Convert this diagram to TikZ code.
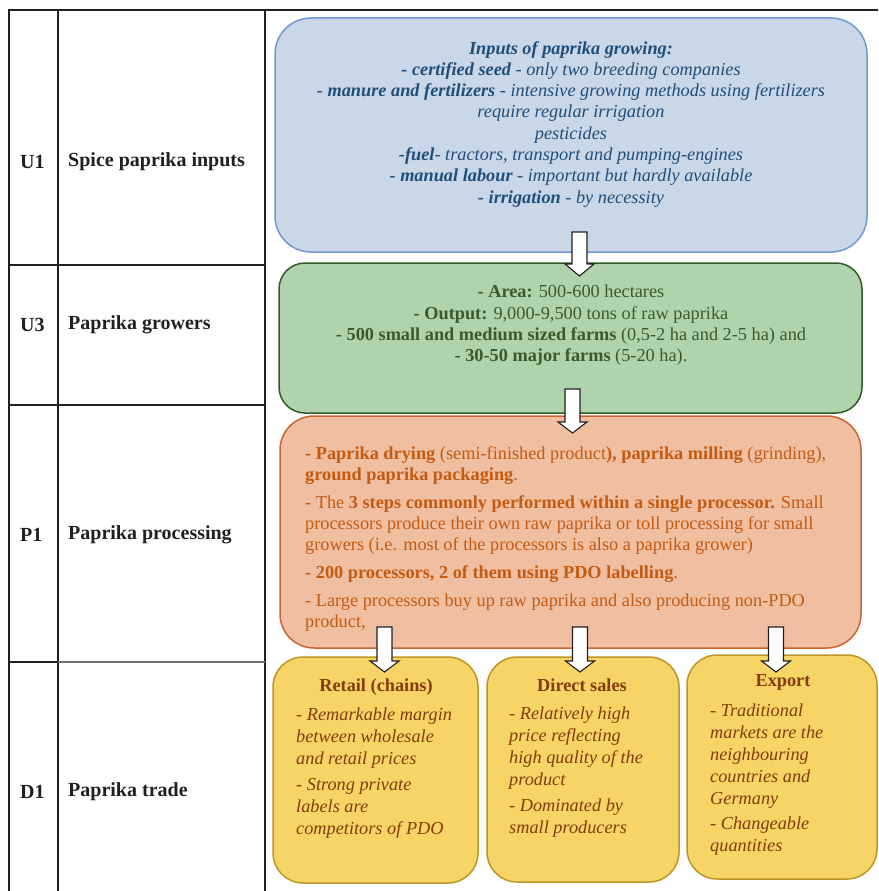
\documentclass[tikz,border=0pt]{standalone}
\usepackage{fontspec}
\setmainfont{Liberation Serif}
\usetikzlibrary{calc}

\definecolor{rulecol}{HTML}{231F20}
\definecolor{rulegrey}{HTML}{6E6E6E}
\definecolor{bluefill}{HTML}{CAD7E9}
\definecolor{blueline}{HTML}{7198D0}
\definecolor{bluetext}{HTML}{1F4E79}
\definecolor{greenfill}{HTML}{B0D3AD}
\definecolor{greenline}{HTML}{2F5B28}
\definecolor{greentext}{HTML}{3A5A2C}
\definecolor{orangefill}{HTML}{F0BFA2}
\definecolor{orangeline}{HTML}{C9642C}
\definecolor{orangetext}{HTML}{C55A11}
\definecolor{yellowfill}{HTML}{F6D466}
\definecolor{yellowline}{HTML}{BE9527}
\definecolor{browntext}{HTML}{843C0C}

% block arrow from #1 (shaft top) to #2 (tip), head length #3
\newcommand\blockarrow[3]{%
  \draw[flowarrow] let \p1=(#1), \p2=(#2) in
    (\x1-7.5pt,\y1) -- (\x1+7.5pt,\y1) -- (\x1+7.5pt,\y2+#3pt) -- (\x1+14.5pt,\y2+#3pt)
    -- (\x2,\y2) -- (\x1-14.5pt,\y2+#3pt) -- (\x1-7.5pt,\y2+#3pt) -- cycle;}

\tikzset{
  rule/.style={draw=rulecol, line width=1.6pt},
  thinrule/.style={draw=rulegrey, line width=1.1pt},
  panel/.style={rectangle, line width=1.5pt, inner sep=0pt},
  txt/.style={inner sep=0pt, font=\fontsize{18.3}{21.3}\selectfont},
  tradetxt/.style={inner sep=0pt, text=browntext, align=left, anchor=north west,
    font=\fontsize{18.3}{22}\selectfont\itshape},
  tradehead/.style={inner sep=0pt, text=browntext, font=\fontsize{18.3}{20}\selectfont\bfseries},
  label/.style={inner sep=0pt, anchor=west, text=rulecol, font=\fontsize{20}{22}\selectfont\bfseries},
  flowarrow/.style={draw=rulecol, fill=white, line width=1.1pt, line join=miter}
}

\begin{document}
\begin{tikzpicture}[x=1pt, y=-1pt]
\useasboundingbox (0,0) rectangle (878,891);

% table grid on the left
\draw[rule] (9,891) -- (9,10) -- (878,10);
\draw[rule] (58,10) -- (58,891);
\draw[rule] (265,10) -- (265,891);
\draw[rule] (9,265) -- (265,265);
\draw[rule] (9,405) -- (265,405);
\draw[rule] (9,662) -- (58,662);
\draw[thinrule] (58,662) -- (265,662);

% stage labels
\node[label] (u1) at (20,162) {U1};
\node[label] (u1n) at (68,162) {Spice paprika inputs};
\node[label] (u3) at (20,325) {U3};
\node[label] (u3n) at (68,325) {Paprika growers};
\node[label] (p1) at (20,535) {P1};
\node[label] (p1n) at (68,535) {Paprika processing};
\node[label] (d1) at (20,792) {D1};
\node[label] (d1n) at (68,792) {Paprika trade};

% panels
\node[panel, fill=bluefill, draw=blueline, rounded corners=36pt,
  minimum width=592pt, minimum height=234pt] (inputs) at (571,135) {};
\node[panel, fill=greenfill, draw=greenline, rounded corners=26pt,
  minimum width=583pt, minimum height=150pt] (growers) at (570.5,338) {};
\node[panel, fill=orangefill, draw=orangeline, rounded corners=34pt,
  minimum width=581pt, minimum height=232pt] (processing) at (570.5,532) {};
\node[panel, fill=yellowfill, draw=yellowline, rounded corners=30pt,
  minimum width=205pt, minimum height=226pt] (retail) at (375.5,770) {};
\node[panel, fill=yellowfill, draw=yellowline, rounded corners=30pt,
  minimum width=192pt, minimum height=225pt] (direct) at (583,769.5) {};
\node[panel, fill=yellowfill, draw=yellowline, rounded corners=30pt,
  minimum width=190pt, minimum height=224pt] (export) at (782,767) {};

% panel texts
\node[txt, text=bluetext, align=center, anchor=north, font=\fontsize{18.3}{21.3}\selectfont\itshape]
  (inputsText) at (571,41) {%
  \textbf{Inputs of paprika growing:}\\
  \textbf{- certified seed} - only two breeding companies\\
  \textbf{- manure and fertilizers} - intensive growing methods using fertilizers\\
  require regular irrigation\\
  pesticides\\
  \textbf{-fuel}- tractors, transport and pumping-engines\\
  \textbf{- manual labour} - important but hardly available\\
  \textbf{- irrigation} - by necessity};

\node[txt, text=greentext, align=center, anchor=north] (growersText) at (571,285) {%
  \textbf{- Area:} 500-600 hectares\\
  \textbf{- Output:} 9,000-9,500 tons of raw paprika\\
  \textbf{- 500 small and medium sized farms} (0,5-2 ha and 2-5 ha) and\\
  \textbf{- 30-50 major farms} (5-20 ha).};

\node[txt, text=orangetext, align=left, anchor=north west] (processingText) at (305,446) {%
  \textbf{- Paprika drying} (semi-finished product\textbf{), paprika milling} (grinding),\\
  \textbf{ground paprika packaging}.\\[6.5pt]
  - The \textbf{3 steps commonly performed within a single processor.} Small\\
  processors produce their own raw paprika or toll processing for small\\
  growers (i.e. most of the processors is also a paprika grower)\\[6.5pt]
  \textbf{- 200 processors, 2 of them using PDO labelling}.\\[6.5pt]
  - Large processors buy up raw paprika and also producing non-PDO\\
  product,};

\node[tradehead] (retailHead) at (376,687) {Retail (chains)};
\node[tradetxt] (retailText) at (296,708) {%
  - Remarkable margin\\
  between wholesale\\
  and retail prices\\[4pt]
  - Strong private\\
  labels are\\
  competitors of PDO};

\node[tradehead] (directHead) at (582,685) {Direct sales};
\node[tradetxt] (directText) at (509,707) {%
  - Relatively high\\
  price reflecting\\
  high quality of the\\
  product\\[4pt]
  - Dominated by\\
  small producers};

\node[tradehead] (exportHead) at (783,682) {Export};
\node[tradetxt] (exportText) at (710,704) {%
  - Traditional\\
  markets are the\\
  neighbouring\\
  countries and\\
  Germany\\[3pt]
  - Changeable\\
  quantities};

% flow arrows between stages
\coordinate (a1s) at (579.5,232);
\coordinate (a1e) at (579.5,276);
\coordinate (a2s) at (572.5,389);
\coordinate (a2e) at (572.5,433);
\coordinate (a3s) at (384.5,627);
\coordinate (a3e) at (384.5,672);
\coordinate (a4s) at (580,627);
\coordinate (a4e) at (580,672);
\coordinate (a5s) at (776,627);
\coordinate (a5e) at (776,672);
\blockarrow{a1s}{a1e}{12}
\blockarrow{a2s}{a2e}{11}
\blockarrow{a3s}{a3e}{11}
\blockarrow{a4s}{a4e}{11}
\blockarrow{a5s}{a5e}{11}
\end{tikzpicture}
\end{document}
